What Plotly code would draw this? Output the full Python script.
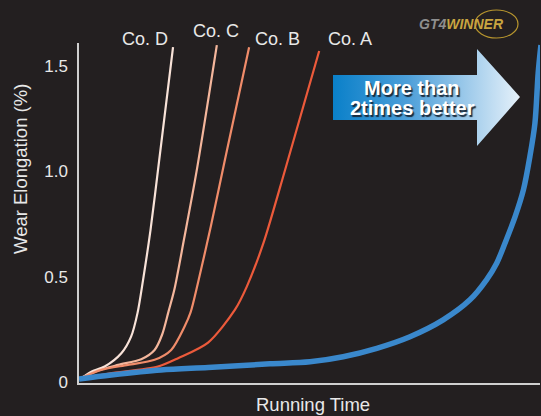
import plotly.graph_objects as go

# ---- data ----
x_D = [0, 0.87, 2.67, 5.57, 9.18, 11.3, 12.7, 13.9, 15.5, 17.1, 20.4]
y_D = [0.014, 0.024, 0.049, 0.073, 0.136, 0.215, 0.328, 0.485, 0.72, 1.0, 1.59]

x_C = [0, 4.1, 8.5, 13.5, 16.4, 18.0, 19.4, 20.7, 22.8, 25.5, 29.9]
y_C = [0.014, 0.054, 0.081, 0.108, 0.152, 0.223, 0.333, 0.44, 0.68, 1.0, 1.60]

x_B = [0, 4.8, 10.6, 16.4, 20.0, 22.9, 24.2, 25.8, 28.6, 31.7, 36.9]
y_B = [0.014, 0.057, 0.081, 0.105, 0.152, 0.263, 0.33, 0.47, 0.74, 1.06, 1.59]

x_A = [0, 6.5, 17.1, 21.5, 28.0, 33.8, 36.4, 40.0, 44.7, 52.1]
y_A = [0.014, 0.040, 0.073, 0.113, 0.187, 0.342, 0.453, 0.659, 1.007, 1.572]

x_G = [0, 7.0, 17.8, 28.0, 41.4, 50.1, 57.3, 64.6, 71.8, 79.0, 84.8, 88.4,
       90.6, 92.4, 94.6, 96.4, 97.8, 98.9, 99.6, 100.2]
y_G = [0.014, 0.033, 0.057, 0.069, 0.086, 0.096, 0.120, 0.160, 0.215, 0.295,
       0.390, 0.485, 0.564, 0.659, 0.785, 0.912, 1.070, 1.229, 1.467, 1.60]

series_names = ["Co. D", "Co. C", "Co. B", "Co. A"]
series_colors = ["#f8e2d8", "#f4b69c", "#f08c6a", "#ec5a3b"]
blue_color = "#3a88cc"

tick_vals = [0, 0.5, 1.0, 1.5]
tick_text = ["0", "0.5", "1.0", "1.5"]

W, H = 541, 416
L, R, T, B = 79, 1, 43, 33
BG = "#231f20"
TXT = "#e8e8e8"
FONT = "Liberation Sans, Arial, sans-serif"


def px2paper(px, py):
    return (px - L) / (W - L - R), (H - B - py) / (H - T - B)


fig = go.Figure()

for xs, ys, nm, col in zip([x_D, x_C, x_B, x_A], [y_D, y_C, y_B, y_A],
                           series_names, series_colors):
    fig.add_trace(go.Scatter(x=xs, y=ys, mode="lines", name=nm,
                             line=dict(color=col, width=2.2, shape="spline",
                                       smoothing=0.8),
                             hoverinfo="skip"))

fig.add_trace(go.Scatter(x=x_G, y=y_G, mode="lines", name="GT4 WINNER",
                         line=dict(color=blue_color, width=5.5, shape="spline",
                                   smoothing=0.9),
                         hoverinfo="skip"))

# gradient arrow (decoration) drawn on an overlay pixel-space axis
ax = [333, 477, 477, 520, 477, 477, 333, 333]
ay = [75, 75, 49, 97, 146, 120, 120, 75]
fig.add_trace(go.Scatter(x=ax, y=ay, xaxis="x2", yaxis="y2", mode="lines",
                         fill="toself", line=dict(width=0),
                         fillgradient=dict(type="horizontal",
                                           colorscale=[[0, "#0a80c9"],
                                                       [0.4, "#4d9fd9"],
                                                       [1, "#e6f1fa"]]),
                         hoverinfo="skip", showlegend=False))

fig.update_layout(
    width=W, height=H,
    margin=dict(l=L, r=R, t=T, b=B, autoexpand=False),
    paper_bgcolor=BG, plot_bgcolor=BG,
    showlegend=False,
    font=dict(family=FONT, color=TXT, size=17),
    xaxis=dict(range=[0, 100], showgrid=False, zeroline=False,
               showline=True, linecolor="#cfcfcf", linewidth=1.5,
               showticklabels=False, ticks="", automargin=False),
    yaxis=dict(range=[-0.005, 1.61], showgrid=False, zeroline=False,
               showline=True, linecolor="#cfcfcf", linewidth=1.5,
               tickvals=tick_vals, ticktext=tick_text, ticks="",
               ticklabelstandoff=6, automargin=False,
               tickfont=dict(size=17, color=TXT)),
    xaxis2=dict(range=[L, W - R], overlaying="x", visible=False,
                fixedrange=True),
    yaxis2=dict(range=[H - B, T], overlaying="y", visible=False,
                fixedrange=True),
)

# axis titles
xp, yp = px2paper(313, 404)
fig.add_annotation(x=xp, y=yp, xref="paper", yref="paper", text="Running Time",
                   showarrow=False, xanchor="center", yanchor="middle",
                   font=dict(size=18.5, color=TXT, family=FONT))
xp, yp = px2paper(20, 169)
fig.add_annotation(x=xp, y=yp, xref="paper", yref="paper",
                   text="Wear Elongation (%)", textangle=-90,
                   showarrow=False, xanchor="center", yanchor="middle",
                   font=dict(size=18.5, color=TXT, family=FONT))

# series labels
label_pos = [(145, 39), (216, 31), (277, 39), (350, 39)]
for nm, (lx, ly) in zip(series_names, label_pos):
    xp, yp = px2paper(lx, ly)
    fig.add_annotation(x=xp, y=yp, xref="paper", yref="paper", text=nm,
                       showarrow=False, xanchor="center", yanchor="middle",
                       font=dict(size=18, color=TXT, family=FONT))

# arrow text
for txt, (tx, ty) in [("More than", (412, 88)), ("2times better", (412, 108))]:
    xp, yp = px2paper(tx, ty)
    fig.add_annotation(x=xp, y=yp, xref="paper", yref="paper",
                       text="<b>" + txt + "</b>", showarrow=False,
                       xanchor="center", yanchor="middle",
                       font=dict(size=20, color="white", family=FONT,
                                 shadow="1.5px 1.5px 1px #1a2a3a"))

# logo
xp, yp = px2paper(461, 24)
fig.add_annotation(x=xp, y=yp, xref="paper", yref="paper",
                   text="<b><i><span style='color:#8e8e8e'>GT4</span>"
                        "<span style='color:#c8a540'>WINNER</span></i></b>",
                   showarrow=False, xanchor="center", yanchor="middle",
                   font=dict(size=14, family=FONT))
x0, y0 = px2paper(475, 38)
x1, y1 = px2paper(518, 10)
fig.add_shape(type="circle", xref="paper", yref="paper",
              x0=x0, y0=y0, x1=x1, y1=y1,
              line=dict(color="#b8962e", width=1.2))

fig.write_html("out.html",
               config={"displayModeBar": False},
               post_script="document.body.style.margin='0px';"
                           "document.body.style.overflow='hidden';"
                           "document.body.style.background='#231f20';")
